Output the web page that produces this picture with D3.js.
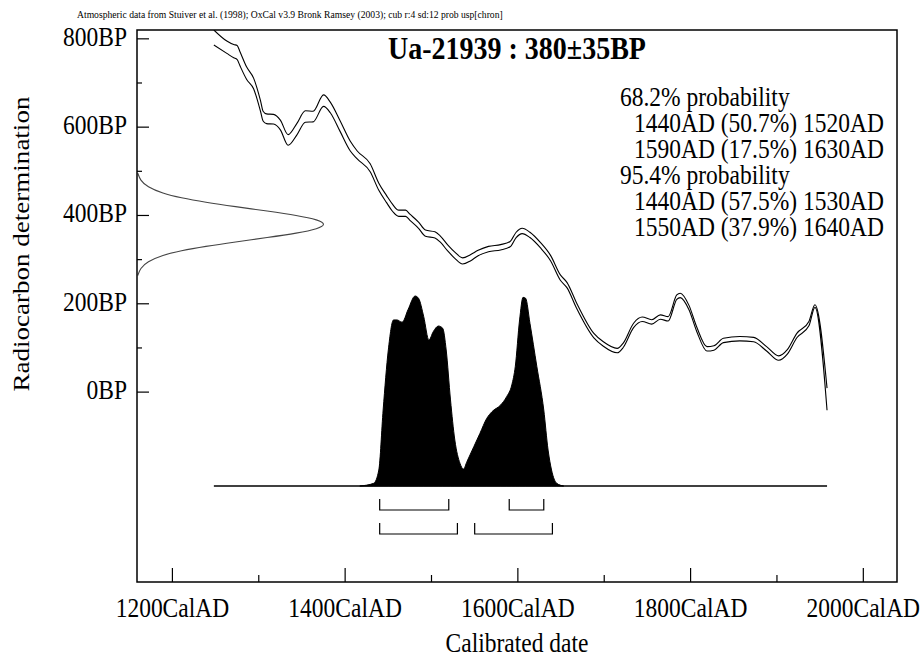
<!DOCTYPE html>
<html>
<head>
<meta charset="utf-8">
<script src="https://cdn.jsdelivr.net/npm/d3@7"></script>
<style>
  body { margin: 0; background: #fff; }
  svg { display: block; font-family: "Liberation Serif", "Times New Roman", serif; }
</style>
</head>
<body>
<div id="chart"></div>
<script>
// Calibration curve (IntCal98): calendar year, radiocarbon age (BP), 1 sigma half-width
const curveYears = [1248, 1263, 1271, 1275, 1278, 1286, 1294, 1302, 1305, 1309, 1317, 1325, 1334, 1344, 1354, 1363, 1375, 1383, 1394, 1406, 1414, 1429, 1439,
  1448, 1455, 1462, 1470, 1475, 1485, 1493, 1504, 1510, 1519, 1527, 1536, 1545, 1554, 1566, 1580, 1591, 1598, 1605, 1614, 1626, 1638,
  1649, 1657, 1668, 1688, 1699, 1715, 1722, 1734, 1744, 1755, 1765, 1774, 1784, 1788, 1798, 1807, 1819, 1827, 1838, 1857, 1873, 1888, 1902, 1912, 1923, 1937, 1944, 1958];
const curveBP = [803, 781, 772, 769, 756, 722, 699, 648, 625, 619, 618, 605, 571, 595, 624, 624, 660, 644, 603, 557, 537, 508, 465,
  437, 417, 405, 405, 396, 378, 360, 356, 347, 326, 310, 297, 304, 315, 324, 328, 335, 356, 365, 356, 333, 303,
  260, 242, 196, 128, 109, 94, 106, 151, 165, 159, 170, 166, 215, 219, 192, 143, 98, 100, 117, 121, 119, 98, 77, 91, 128, 155, 195, -16];
const curveErr = [17, 14, 15, 16, 16, 14, 12, 12, 11, 11, 11, 11, 12, 13, 13, 12, 13, 12, 12, 11, 9, 9, 8,
  8, 8, 7, 7, 7, 7, 7, 7, 7, 7, 7, 7, 7, 6, 6, 6, 6, 6, 6, 6, 6, 6,
  6, 6, 6, 5, 5, 5, 5, 5, 5, 5, 5, 5, 5, 5, 5, 5, 5, 5, 5, 5, 5, 5, 5, 5, 5, 5, 3, 25];

// Calibrated probability distribution (relative)
const probYears = [1417, 1433, 1439, 1444, 1450, 1456, 1460, 1466, 1473, 1481, 1485, 1491, 1497, 1502, 1508, 1513, 1517, 1522, 1527, 1533, 1537,
  1541, 1549, 1556, 1564, 1570, 1580, 1587, 1593, 1597, 1602, 1606, 1609, 1614, 1622, 1630, 1635, 1639, 1645, 1653];
const probValues = [0, 0.014, 0.084, 0.40, 0.716, 0.874, 0.874, 0.862, 0.93, 1.0, 0.988, 0.891, 0.768, 0.812, 0.842, 0.83, 0.716, 0.453, 0.242, 0.119, 0.089,
  0.128, 0.207, 0.276, 0.356, 0.391, 0.426, 0.47, 0.532, 0.628, 0.874, 0.993, 0.988, 0.856, 0.628, 0.40, 0.189, 0.084, 0.014, 0];

// Radiocarbon measurement 380±35BP drawn on the y axis
const gaussBP = [496, 480, 465, 450, 440, 430, 420, 410, 400, 390, 380, 370, 360, 350, 340, 330, 320, 310, 295, 280, 264];
const gaussValues = [0.004, 0.017, 0.053, 0.135, 0.23, 0.36, 0.52, 0.69, 0.85, 0.96, 1.0, 0.96, 0.85, 0.69, 0.52, 0.36, 0.23, 0.135, 0.053, 0.017, 0.004];

// Calibrated ranges
const ranges68 = [[1440, 1520], [1590, 1630]];
const ranges95 = [[1440, 1530], [1550, 1640]];
const rangeText = [
  "68.2% probability",
  "1440AD (50.7%) 1520AD",
  "1590AD (17.5%) 1630AD",
  "95.4% probability",
  "1440AD (57.5%) 1530AD",
  "1550AD (37.9%) 1640AD"
];

const xMajor = [1200, 1400, 1600, 1800, 2000];
const xMinor = [1300, 1500, 1700, 1900];
const yMajor = [0, 200, 400, 600, 800];
const yMinor = [100, 300, 500, 700];

const titleText = "Ua-21939 : 380\u00b135BP";
const creditText = "Atmospheric data from Stuiver et al. (1998); OxCal v3.9 Bronk Ramsey (2003); cub r:4 sd:12 prob usp[chron]";

(function () {
  const width = 924, height = 656;
  const frame = { left: 137, right: 897, top: 30, bottom: 582 };
  const STRETCH = 1.15; // glyphs in the original are drawn taller than wide
  const FONT = 23.5;

  const svg = d3.select("#chart").append("svg")
    .attr("width", width)
    .attr("height", height);

  // text helper: baseline at (tx, ty), glyphs stretched vertically
  function label(parent, tx, ty, str, size, anchor) {
    return parent.append("text")
      .attr("transform", `translate(${tx},${ty}) scale(1,${STRETCH})`)
      .attr("text-anchor", anchor || "start")
      .style("font-size", size + "px")
      .text(str);
  }

  const x = d3.scaleLinear().domain([1159, 2039]).range([frame.left, frame.right]);
  const y = d3.scaleLinear().domain([-430, 820]).range([frame.bottom, frame.top]);
  const pScale = d3.scaleLinear().domain([0, 1]).range([486, 296]);
  const gScale = d3.scaleLinear().domain([0, 1]).range([frame.left, 326]);

  svg.append("clipPath").attr("id", "plotClip")
    .append("rect")
    .attr("x", frame.left).attr("y", frame.top)
    .attr("width", frame.right - frame.left)
    .attr("height", frame.bottom - frame.top);

  const plot = svg.append("g").attr("clip-path", "url(#plotClip)");

  // calibration curve, two lines at +/- 1 sigma
  const curve = curveYears.map((yr, i) => ({ yr, bp: curveBP[i], err: curveErr[i] }));
  [1, -1].forEach(sign => {
    plot.append("path")
      .datum(curve)
      .attr("fill", "none")
      .attr("stroke", "#000")
      .attr("stroke-width", 1.1)
      .attr("d", d3.line()
        .x(d => x(d.yr))
        .y(d => y(d.bp + sign * d.err))
        .curve(d3.curveMonotoneX));
  });

  // measurement on the y axis
  const gauss = gaussBP.map((bp, i) => ({ bp, v: gaussValues[i] }));
  plot.append("path")
    .datum(gauss)
    .attr("fill", "none")
    .attr("stroke", "#444")
    .attr("stroke-width", 1.1)
    .attr("d", d3.line()
      .x(d => gScale(d.v))
      .y(d => y(d.bp))
      .curve(d3.curveBasis));

  // baseline and calibrated distribution
  plot.append("line")
    .attr("x1", x(d3.min(curveYears))).attr("x2", x(d3.max(curveYears)))
    .attr("y1", pScale(0)).attr("y2", pScale(0))
    .attr("stroke", "#000").attr("stroke-width", 1.5);

  const dist = probYears.map((yr, i) => ({ yr, v: probValues[i] }));
  plot.append("path")
    .datum(dist)
    .attr("fill", "#000")
    .attr("stroke", "#000")
    .attr("stroke-width", 1)
    .attr("d", d3.area()
      .x(d => x(d.yr))
      .y0(pScale(0))
      .y1(d => pScale(d.v))
      .curve(d3.curveMonotoneX));

  // range brackets
  [[ranges68, 510], [ranges95, 534]].forEach(([ranges, by]) => {
    ranges.forEach(([a, b]) => {
      plot.append("path")
        .attr("fill", "none")
        .attr("stroke", "#000")
        .attr("stroke-width", 1.2)
        .attr("d", `M${x(a)},${by - 11}V${by}H${x(b)}V${by - 11}`);
    });
  });

  // frame
  svg.append("rect")
    .attr("x", frame.left).attr("y", frame.top)
    .attr("width", frame.right - frame.left)
    .attr("height", frame.bottom - frame.top)
    .attr("fill", "none")
    .attr("stroke", "#000")
    .attr("stroke-width", 1.5);

  // x ticks
  const xAxisG = svg.append("g");
  xMajor.forEach(t => {
    xAxisG.append("line").attr("x1", x(t)).attr("x2", x(t))
      .attr("y1", frame.bottom).attr("y2", frame.bottom - 14)
      .attr("stroke", "#000").attr("stroke-width", 1.2);
    label(xAxisG, x(t), 617, t + "CalAD", FONT, "middle");
  });
  xMinor.forEach(t => {
    xAxisG.append("line").attr("x1", x(t)).attr("x2", x(t))
      .attr("y1", frame.bottom).attr("y2", frame.bottom - 7)
      .attr("stroke", "#000").attr("stroke-width", 1.2);
  });

  // y ticks
  const yAxisG = svg.append("g");
  yMajor.forEach(t => {
    yAxisG.append("line").attr("x1", frame.left).attr("x2", frame.left + 12)
      .attr("y1", y(t)).attr("y2", y(t))
      .attr("stroke", "#000").attr("stroke-width", 1.2);
    label(yAxisG, 127, y(t) + 7, t + "BP", FONT, "end");
  });
  yMinor.forEach(t => {
    yAxisG.append("line").attr("x1", frame.left).attr("x2", frame.left + 5)
      .attr("y1", y(t)).attr("y2", y(t))
      .attr("stroke", "#000").attr("stroke-width", 1.2);
  });

  // axis titles
  label(svg, (frame.left + frame.right) / 2, 652, "Calibrated date", FONT, "middle");

  svg.append("text")
    .attr("transform", `translate(29,244) scale(1,${STRETCH}) rotate(-90)`)
    .attr("text-anchor", "middle")
    .style("font-size", FONT + "px")
    .text("Radiocarbon determination");

  // title and credit line
  label(svg, (frame.left + frame.right) / 2, 59, titleText, 28, "middle")
    .style("font-weight", "bold");

  label(svg, 77, 18, creditText, 9.65);

  // range summary
  rangeText.forEach((str, i) => {
    label(svg, i % 3 === 0 ? 620 : 634, 106 + i * 26, str, FONT)
      .attr("class", "range");
  });
})();
</script>
</body>
</html>
